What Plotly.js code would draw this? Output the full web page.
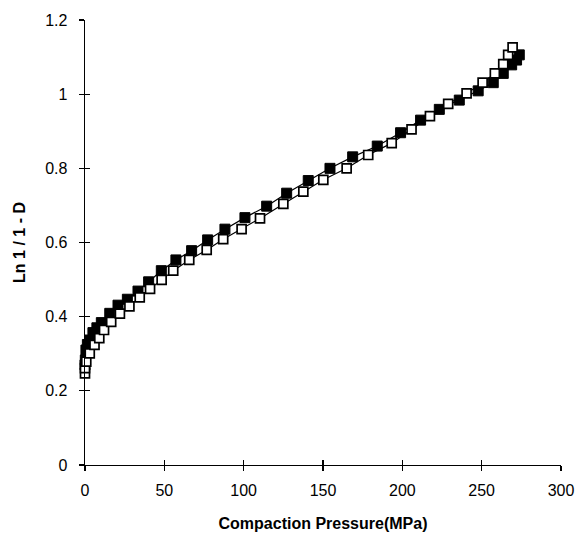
<!DOCTYPE html>
<html>
<head>
<meta charset="utf-8">
<script src="https://cdn.plot.ly/plotly-3.0.1.min.js"></script>
<style>html,body{margin:0;padding:0;background:#fff;}#chart{width:579px;height:537px;}</style>
</head>
<body>
<div id="chart"></div>
<script>
// Filled squares series
const pressureFilled = [0, 0.2, 0.6, 1.5, 3.0, 5.0, 7.5, 10.3, 15.6, 20.8, 26.7, 33.4, 40.1, 48.1, 57.3, 67.2, 77.3, 88.2, 100.8, 114.5, 127.1, 140.7, 154.4, 168.7, 184.2, 198.9, 211.5, 223.3, 235.9, 247.8, 257.3, 263.6, 268.9, 272.0, 273.7];
const lnFilled = [0.270, 0.283, 0.310, 0.325, 0.337, 0.357, 0.370, 0.384, 0.409, 0.431, 0.447, 0.469, 0.494, 0.524, 0.553, 0.578, 0.607, 0.636, 0.667, 0.698, 0.733, 0.767, 0.800, 0.831, 0.860, 0.896, 0.930, 0.959, 0.984, 1.009, 1.031, 1.056, 1.079, 1.092, 1.106];
// Open squares series
const pressureOpen = [0, 0, 0.8, 3.0, 6.0, 9.0, 12.0, 16.5, 22.0, 28.0, 34.5, 41.0, 48.3, 55.6, 65.7, 76.7, 87.1, 98.7, 110.3, 125.0, 137.6, 150.2, 164.9, 178.5, 193.3, 205.8, 217.4, 228.9, 240.5, 250.6, 258.3, 263.6, 266.7, 269.5];
const lnOpen = [0.247, 0.261, 0.279, 0.301, 0.324, 0.342, 0.364, 0.386, 0.408, 0.428, 0.452, 0.475, 0.499, 0.524, 0.553, 0.580, 0.609, 0.636, 0.665, 0.704, 0.737, 0.769, 0.800, 0.836, 0.868, 0.905, 0.941, 0.974, 1.002, 1.031, 1.056, 1.081, 1.106, 1.126];

const xTicks = [0, 50, 100, 150, 200, 250, 300];
const yTicks = [0, 0.2, 0.4, 0.6, 0.8, 1, 1.2];
const yTickText = ['0', '0.2', '0.4', '0.6', '0.8', '1', '1.2'];

const traces = [
  {x: pressureFilled, y: lnFilled, type: 'scatter', mode: 'lines+markers', cliponaxis: false,
   line: {color: '#000', width: 1.2},
   marker: {symbol: 'square', size: 10, color: '#000', line: {color: '#000', width: 1}}},
  {x: pressureOpen, y: lnOpen, type: 'scatter', mode: 'lines+markers', cliponaxis: false,
   line: {color: '#000', width: 1.2},
   marker: {symbol: 'square', size: 9, color: '#fff', line: {color: '#000', width: 1.7}}},
  {x: [], y: [], xaxis: 'x2', yaxis: 'y2', type: 'scatter', mode: 'markers', hoverinfo: 'skip'}
];

const fam = '"Liberation Sans", Arial, sans-serif';
const font = {family: fam, size: 16, color: '#000'};
const titleFont = {family: fam, size: 16, weight: 'bold', color: '#000'};

const layout = {
  width: 579, height: 537,
  margin: {l: 85, r: 18, t: 20, b: 72},
  paper_bgcolor: '#fff', plot_bgcolor: '#fff',
  showlegend: false,
  font: font,
  xaxis: {
    range: [0, 300], tickvals: xTicks, ticks: 'outside', ticklen: 5, tickwidth: 1.2, tickcolor: '#000',
    showline: true, linecolor: '#000', linewidth: 1.4, showgrid: false, zeroline: false,
    tickfont: font, ticklabelstandoff: 5,
    title: {text: 'Compaction Pressure(MPa)', font: titleFont, standoff: 20}
  },
  yaxis: {
    range: [0, 1.2], tickvals: yTicks, ticktext: yTickText, ticks: 'outside', ticklen: 5, tickwidth: 1.2, tickcolor: '#000',
    showline: true, linecolor: '#000', linewidth: 1.4, showgrid: false, zeroline: false,
    tickfont: font, ticklabelstandoff: 8,
    title: {text: 'Ln 1 / 1 - D', font: titleFont, standoff: 15}
  },
  xaxis2: {
    overlaying: 'x', range: [0, 300], tickvals: xTicks, ticks: 'inside', ticklen: 5, tickwidth: 1.2, tickcolor: '#000',
    showticklabels: false, showline: false, showgrid: false, zeroline: false, side: 'bottom'
  },
  yaxis2: {
    overlaying: 'y', range: [0, 1.2], tickvals: yTicks, ticks: 'inside', ticklen: 5, tickwidth: 1.2, tickcolor: '#000',
    showticklabels: false, showline: false, showgrid: false, zeroline: false, side: 'left'
  }
};

Plotly.newPlot('chart', traces, layout, {displayModeBar: false, staticPlot: true});
</script>
</body>
</html>
